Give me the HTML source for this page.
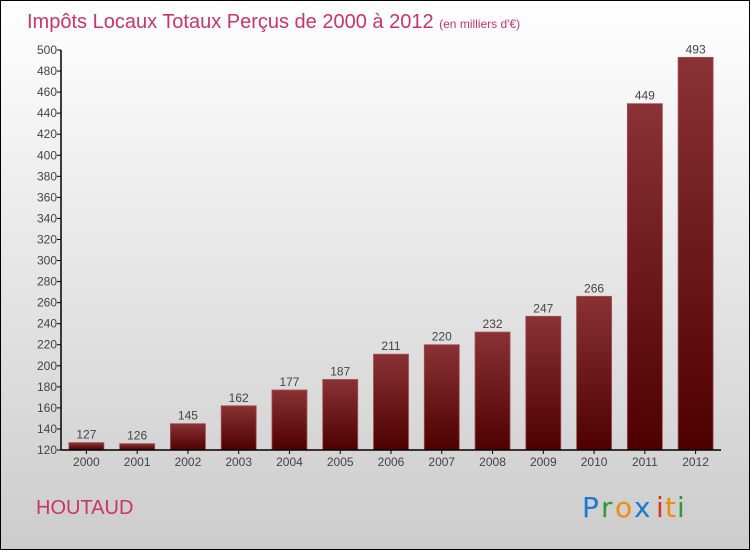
<!DOCTYPE html>
<html><head><meta charset="utf-8"><style>
body{margin:0}
#c{width:750px;height:550px;position:relative;font-family:"Liberation Sans",sans-serif}
</style></head><body>
<div id="c">
<svg width="750" height="550" xmlns="http://www.w3.org/2000/svg" id="svg">
<defs>
<linearGradient id="bg" x1="0" y1="0" x2="0" y2="1"><stop offset="0" stop-color="#ffffff"/><stop offset="1" stop-color="#cccccc"/></linearGradient>
<linearGradient id="bar" x1="0" y1="0" x2="0" y2="1"><stop offset="0" stop-color="#8a3236"/><stop offset="1" stop-color="#4e0000"/></linearGradient>
</defs>
<rect x="0.5" y="0.5" width="749" height="549" fill="url(#bg)" stroke="#000"/>
<text x="27" y="28" font-size="20" fill="#cc3366">Impôts Locaux Totaux Perçus de 2000 à 2012 <tspan font-size="12">(en milliers d'€)</tspan></text>
<text x="36" y="514" font-size="20" fill="#cc3366">HOUTAUD</text>
<g font-size="28" font-family="'DejaVu Sans',sans-serif">
<text x="582" y="517" fill="#1a7bd0">P</text><text x="601" y="517" fill="#2a9a3a">r</text><text x="615" y="517" fill="#f08a10">o</text><text x="634" y="517" fill="#1a7bd0">x</text><text x="656" y="517" fill="#e03020">i</text><text x="665" y="517" fill="#f08a10">t</text><text x="677" y="517" fill="#2a9a3a">i</text>
</g>
<g id="plot"></g>
</svg>
</div>
<script>
const categories=["2000","2001","2002","2003","2004","2005","2006","2007","2008","2009","2010","2011","2012"];
const values=[127,126,145,162,177,187,211,220,232,247,266,449,493];
const yTicks=[120,140,160,180,200,220,240,260,280,300,320,340,360,380,400,420,440,460,480,500];
const X0=61,X1=721,Y0=450,Y1=50,ymin=120,ymax=500;
const band=(X1-X0)/categories.length;
const y=v=>Y0-(v-ymin)/(ymax-ymin)*(Y0-Y1);
const xc=i=>X0+band*(i+0.5);
const ns="http://www.w3.org/2000/svg",g=document.getElementById('plot');
function mk(t,a,txt){const e=document.createElementNS(ns,t);for(const k in a)e.setAttribute(k,a[k]);if(txt!==undefined)e.textContent=txt;g.appendChild(e);return e;}
values.forEach((v,i)=>{
 const b=mk('rect',{x:xc(i)-17.5,y:y(v),width:35,height:Y0-y(v),fill:'url(#bar)',stroke:'#a05055','stroke-width':0.8});
 
 
 const t=mk('text',{x:xc(i),y:y(v)-4,'font-size':12,'text-anchor':'middle',fill:'#444'},v);
 
 
 const l=mk('text',{x:xc(i),y:Y0+16,'font-size':12,'text-anchor':'middle',fill:'#444'},categories[i]);
 
 
 mk('line',{x1:xc(i),x2:xc(i),y1:Y0,y2:Y0+4,stroke:'#000'});
});
yTicks.forEach(v=>{
 mk('line',{x1:X0-4,x2:X0,y1:y(v),y2:y(v),stroke:'#000'});
 const t=mk('text',{x:X0-4,y:y(v)+4,'font-size':12,'text-anchor':'end',fill:'#444'},v);
 
 
});
const ya=mk('line',{x1:X0,x2:X0,y1:Y1,y2:Y0,stroke:'#000','stroke-width':1.5});


const xa=mk('line',{x1:X0,x2:X1,y1:Y0,y2:Y0,stroke:'#000','stroke-width':1.5});


</script>
</body></html>
